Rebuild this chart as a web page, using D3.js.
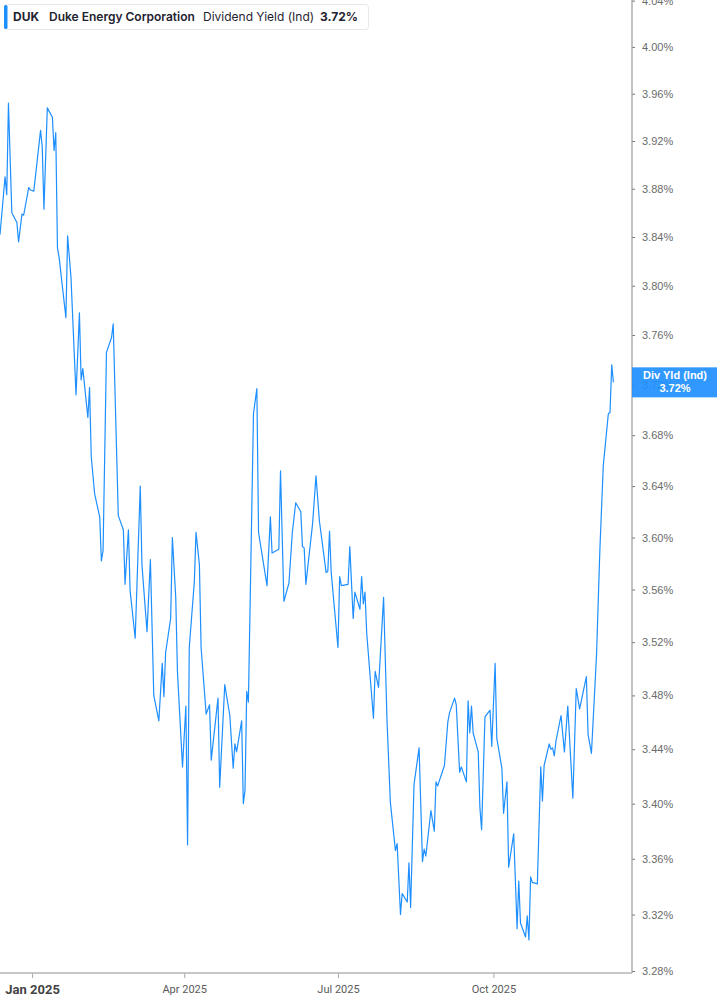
<!DOCTYPE html>
<html>
<head>
<meta charset="utf-8">
<script src="https://cdn.jsdelivr.net/npm/d3@7"></script>
<style>
  body { margin: 0; background: #fff; }
</style>
</head>
<body>
<div id="chart"></div>
<script>
// Series: dividend yield (%) by trading date
var dates = [
  "2024-12-13","2024-12-16","2024-12-17","2024-12-18","2024-12-20","2024-12-23","2024-12-24","2024-12-26","2024-12-27","2024-12-30",
  "2024-12-31","2025-01-02","2025-01-06","2025-01-07","2025-01-08","2025-01-10","2025-01-13","2025-01-14","2025-01-15","2025-01-16",
  "2025-01-17","2025-01-21","2025-01-22","2025-01-24","2025-01-27","2025-01-29","2025-01-30","2025-01-31","2025-02-03","2025-02-04",
  "2025-02-05","2025-02-07","2025-02-10","2025-02-11","2025-02-12","2025-02-14","2025-02-17","2025-02-18","2025-02-21","2025-02-24",
  "2025-02-25","2025-02-27","2025-02-28","2025-03-03","2025-03-06","2025-03-07","2025-03-10","2025-03-12","2025-03-14","2025-03-17",
  "2025-03-19","2025-03-20","2025-03-21","2025-03-24","2025-03-25","2025-03-27","2025-03-28","2025-03-31","2025-04-02","2025-04-03",
  "2025-04-04","2025-04-07","2025-04-08","2025-04-10","2025-04-11","2025-04-14","2025-04-16","2025-04-17","2025-04-21","2025-04-22",
  "2025-04-25","2025-04-28","2025-04-30","2025-05-01","2025-05-02","2025-05-05","2025-05-06","2025-05-07","2025-05-08","2025-05-09",
  "2025-05-12","2025-05-14","2025-05-15","2025-05-20","2025-05-22","2025-05-23","2025-05-27","2025-05-28","2025-05-30","2025-06-02",
  "2025-06-04","2025-06-06","2025-06-09","2025-06-10","2025-06-11","2025-06-12","2025-06-16","2025-06-18","2025-06-20","2025-06-24",
  "2025-06-25","2025-06-26","2025-06-27","2025-07-01","2025-07-02","2025-07-03","2025-07-07","2025-07-08","2025-07-10","2025-07-11",
  "2025-07-14","2025-07-15","2025-07-16","2025-07-17","2025-07-18","2025-07-22","2025-07-23","2025-07-25","2025-07-28","2025-07-30",
  "2025-08-01","2025-08-04","2025-08-05","2025-08-07","2025-08-08","2025-08-11","2025-08-12","2025-08-13","2025-08-15","2025-08-18",
  "2025-08-20","2025-08-21","2025-08-22","2025-08-25","2025-08-27","2025-08-28","2025-08-29","2025-09-02","2025-09-04","2025-09-05",
  "2025-09-08","2025-09-09","2025-09-11","2025-09-12","2025-09-15","2025-09-16","2025-09-17","2025-09-18","2025-09-19","2025-09-22",
  "2025-09-23","2025-09-24","2025-09-26","2025-09-29","2025-09-30","2025-10-02","2025-10-03","2025-10-06","2025-10-07","2025-10-09",
  "2025-10-10","2025-10-13","2025-10-15","2025-10-16","2025-10-17","2025-10-20","2025-10-21","2025-10-22","2025-10-23","2025-10-24",
  "2025-10-27","2025-10-29","2025-10-30","2025-10-31","2025-11-03","2025-11-04","2025-11-05","2025-11-06","2025-11-07","2025-11-10",
  "2025-11-12","2025-11-14","2025-11-17","2025-11-19","2025-11-21","2025-11-25","2025-11-26","2025-11-28","2025-12-01","2025-12-03",
  "2025-12-05","2025-12-08","2025-12-09","2025-12-10","2025-12-11"
];
var yieldPct = [
  3.842,3.890,3.875,3.952,3.860,3.852,3.836,3.859,3.858,3.881,
  3.879,3.878,3.929,3.915,3.863,3.948,3.940,3.912,3.927,3.831,
  3.823,3.774,3.841,3.807,3.712,3.778,3.724,3.733,3.694,3.718,
  3.663,3.634,3.616,3.582,3.590,3.746,3.758,3.769,3.617,3.606,
  3.564,3.606,3.559,3.523,3.640,3.579,3.528,3.583,3.480,3.461,
  3.504,3.479,3.512,3.538,3.600,3.554,3.498,3.427,3.472,3.370,
  3.516,3.566,3.604,3.579,3.516,3.466,3.473,3.432,3.478,3.412,
  3.488,3.465,3.426,3.444,3.438,3.461,3.400,3.410,3.483,3.475,
  3.697,3.717,3.604,3.563,3.616,3.588,3.591,3.652,3.551,3.565,
  3.604,3.627,3.620,3.593,3.592,3.564,3.611,3.648,3.613,3.573,
  3.574,3.605,3.573,3.516,3.570,3.563,3.564,3.593,3.538,3.558,
  3.545,3.570,3.549,3.558,3.527,3.463,3.498,3.486,3.554,3.462,
  3.401,3.366,3.371,3.320,3.335,3.329,3.357,3.325,3.414,3.441,
  3.358,3.367,3.362,3.395,3.380,3.416,3.413,3.428,3.460,3.467,
  3.478,3.473,3.423,3.427,3.416,3.476,3.452,3.472,3.452,3.438,
  3.397,3.381,3.464,3.469,3.442,3.504,3.448,3.426,3.393,3.416,
  3.354,3.378,3.310,3.344,3.314,3.304,3.319,3.302,3.347,3.343,
  3.342,3.427,3.402,3.428,3.444,3.440,3.441,3.435,3.446,3.465,
  3.438,3.472,3.404,3.485,3.470,3.494,3.451,3.437,3.510,3.591,
  3.656,3.697,3.698,3.736,3.722
];

var yTicks = [3.28,3.32,3.36,3.40,3.44,3.48,3.52,3.56,3.60,3.64,3.68,3.72,3.76,3.80,3.84,3.88,3.92,3.96,4.00,4.04];
var xTicks = ["2025-01-01","2025-04-01","2025-07-01","2025-10-01"];
var xExtent = ["2024-12-13","2025-12-22"];

var ticker = "DUK",
    company = "Duke Energy Corporation",
    metric = "Dividend Yield (Ind)",
    lastTag = "Div Yld (Ind)";

document.addEventListener('DOMContentLoaded', function() {
  var width = 717, height = 1005;
  var plotRight = 632, plotBottom = 973;
  var blue = "#1e8fff";

  var parse = d3.utcParse("%Y-%m-%d");
  var data = dates.map(function(d, i) { return {date: parse(d), value: yieldPct[i]}; });
  var last = data[data.length - 1];

  var svg = d3.select("#chart")
    .append("svg")
      .attr("width", width)
      .attr("height", height)
      .style("display", "block")
      .style("font-family", "'Liberation Sans', Arial, sans-serif");

  var x = d3.scaleUtc()
    .domain(xExtent.map(parse))
    .range([0, plotRight]);

  // the value axis is logarithmic (tick gaps widen toward the bottom)
  var y = d3.scaleLog()
    .domain([3.28, 4.04])
    .range([971, 0.6]);

  // Price line
  var line = d3.line()
    .x(function(d) { return x(d.date); })
    .y(function(d) { return y(d.value); });

  svg.append("path")
    .datum(data)
    .attr("fill", "none")
    .attr("stroke", blue)
    .attr("stroke-width", 1.2)
    .attr("stroke-linejoin", "round")
    .attr("d", line);

  // Right axis
  var yAxis = svg.append("g")
    .attr("transform", "translate(" + plotRight + ",0)")
    .call(d3.axisRight(y)
      .tickValues(yTicks)
      .tickSize(3)
      .tickSizeOuter(0)
      .tickPadding(7)
      .tickFormat(function(d) { return d.toFixed(2) + "%"; }));
  yAxis.select(".domain").remove();
  yAxis.selectAll(".tick line").attr("stroke", "#777");
  yAxis.selectAll(".tick text")
    .attr("fill", "#6b6b6b")
    .style("font-size", "11px");
  svg.append("line")
    .attr("x1", plotRight).attr("x2", plotRight)
    .attr("y1", 0).attr("y2", plotBottom)
    .attr("stroke", "#9a9a9a").attr("stroke-width", 1.2);

  // Bottom axis
  var xAxis = svg.append("g")
    .attr("transform", "translate(0," + plotBottom + ")")
    .call(d3.axisBottom(x)
      .tickValues(xTicks.map(parse))
      .tickSize(5)
      .tickSizeOuter(0)
      .tickPadding(7)
      .tickFormat(d3.utcFormat("%b %Y")));
  xAxis.select(".domain").remove();
  xAxis.selectAll(".tick line").attr("stroke", "#aaa");
  xAxis.selectAll(".tick text")
    .attr("fill", "#5a5a5a")
    .style("font-size", "11px")
    .style("font-family", "Roboto, 'Liberation Sans', sans-serif")
    .filter(function(d) { return d.getUTCMonth() === 0; })
      .attr("fill", "#444")
      .style("font-size", "13px")
      .style("font-weight", "bold");
  svg.append("line")
    .attr("x1", 0).attr("x2", plotRight)
    .attr("y1", plotBottom).attr("y2", plotBottom)
    .attr("stroke", "#b4b4b4").attr("stroke-width", 1.5);

  // Last value tag on the axis
  var ty = y(last.value);
  var tag = svg.append("g");
  tag.append("rect")
    .attr("x", plotRight).attr("y", ty - 15)
    .attr("width", width - plotRight).attr("height", 30)
    .attr("fill", blue).attr("fill-opacity", 0.92);
  tag.append("text")
    .attr("x", 675).attr("y", ty - 3)
    .attr("text-anchor", "middle")
    .attr("fill", "#fff")
    .style("font-size", "11px").style("font-weight", "bold")
    .text(lastTag);
  tag.append("text")
    .attr("x", 675).attr("y", ty + 10)
    .attr("text-anchor", "middle")
    .attr("fill", "#fff")
    .style("font-size", "11px").style("font-weight", "bold")
    .text(last.value.toFixed(2) + "%");

  // Header legend box
  var head = svg.append("g").style("font-family", "Inter, 'Noto Sans', sans-serif");
  head.append("rect")
    .attr("x", 4.5).attr("y", 4.5)
    .attr("width", 364).attr("height", 25)
    .attr("rx", 3)
    .attr("fill", "#fff")
    .attr("stroke", "#e8e8e8");
  head.append("rect")
    .attr("x", 4).attr("y", 5)
    .attr("width", 3.5).attr("height", 24)
    .attr("rx", 1.5)
    .attr("fill", blue);
  var ht = head.append("text")
    .attr("y", 21)
    .attr("fill", "#1f2330")
    .style("font-size", "12px");
  ht.append("tspan").attr("x", 13).style("font-weight", 700).text(ticker);
  ht.append("tspan").attr("x", 49).style("font-weight", 600).text(company);
  ht.append("tspan").attr("x", 203).style("font-weight", 400).text(metric);
  ht.append("tspan").attr("x", 320).style("font-weight", 700).text(last.value.toFixed(2) + "%");
});
</script>
</body>
</html>
